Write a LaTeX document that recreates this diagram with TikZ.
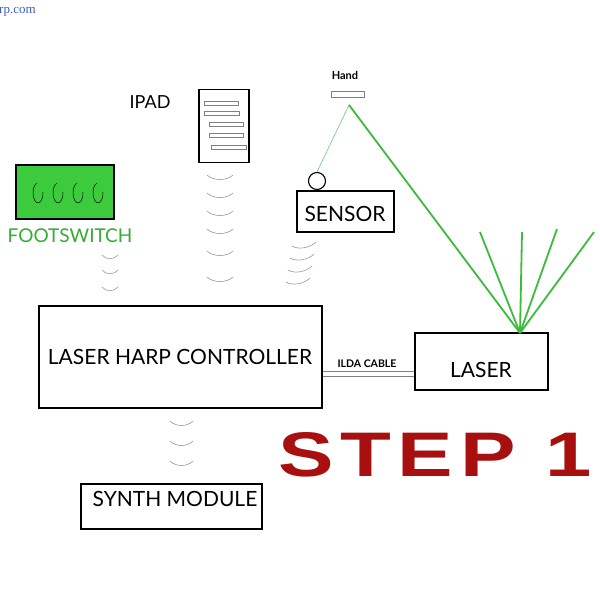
\documentclass[tikz,border=0pt]{standalone}
\usepackage{fontspec}
\setmainfont{Lato}
\newfontfamily\stepfont[LetterSpace=8]{Liberation Sans}
\newfontfamily\webfont{Liberation Serif}
\begin{document}
\begin{tikzpicture}[x=1pt,y=-1pt]
\definecolor{fsgreen}{HTML}{3CCB3C}
\definecolor{beam}{HTML}{3DBB3D}
\definecolor{stepred}{HTML}{A80F0F}
\definecolor{wavegray}{HTML}{8A8A8A}
\definecolor{weblue}{HTML}{3E5FC8}
\tikzset{
  boxed/.style={draw=black, line width=1.1pt, fill=white},
  lbl/.style={font=\fontsize{21}{21}\selectfont, inner sep=0pt},
  wave/.style={draw=wavegray, line width=0.5pt},
  bar/.style={draw=gray, line width=0.6pt},
}
\useasboundingbox (0,0) rectangle (600,600);
\fill[white] (0,0) rectangle (600,600);

% web text
\node[anchor=west, inner sep=0pt, text=weblue, font=\webfont\fontsize{13}{13}\selectfont] (web) at (-1,12) {rp.com};

% footswitch
\node[draw=black, line width=1.1pt, fill=fsgreen, minimum width=98pt, minimum height=54pt, inner sep=0pt] (fs) at (65,192) {};
\foreach \cx in {38,58,78,98}{
  \draw[black, line width=0.5pt] (\cx+5,192) arc[start angle=-5, end angle=255, x radius=5, y radius=10];
}
\node[lbl, text=fsgreen!85!black, font=\fontsize{19}{19}\selectfont] (fslbl) at (70,236) {FOOTSWITCH};
\foreach \y in {255,270,287}{
  \draw[wave] (102,\y) .. controls (106,\y+5) and (114,\y+5) .. (118,\y);
}

% ipad
\node[lbl, font=\fontsize{18}{18}\selectfont] (ipadlbl) at (150,102) {IPAD};
\node[boxed, minimum width=50pt, minimum height=73pt, inner sep=0pt] (ipad) at (224,126) {};
\draw[bar] (204,101) rectangle (238,105);
\draw[bar] (204,111) rectangle (239,115);
\draw[bar] (209,122) rectangle (243,126);
\draw[bar] (209,133) rectangle (243,137);
\draw[bar] (211,145) rectangle (246,149);
\foreach \y in {175,193,211,229,251,277}{
  \draw[wave] (207,\y) .. controls (213,\y+6) and (227,\y+6) .. (233,\y);
}

% hand
\node[inner sep=0pt, font=\bfseries\fontsize{11}{11}\selectfont] (handlbl) at (345,75) {Hand};
\node[draw=gray, line width=0.7pt, minimum width=33pt, minimum height=6pt, inner sep=0pt] (hand) at (347.5,94) {};
\coordinate (hp) at (349,105);

% sensor
\node[boxed, minimum width=97pt, minimum height=41pt, inner sep=0pt] (sensor) at (345.5,211.5) {};
\node[lbl] (sensorlbl) at (345,214) {SENSOR};
\node[draw=black, line width=1.1pt, fill=white, circle, minimum size=17pt, inner sep=0pt] (eye) at (317,181) {};
\foreach \y/\dx in {244/0,256/-2,268/-4,280/-6}{
  \draw[wave] (292+\dx,\y+2) .. controls (298+\dx,\y+6) and (310+\dx,\y+4) .. (316+\dx,\y-2);
}

% laser
\node[boxed, minimum width=133pt, minimum height=57pt, inner sep=0pt] (laser) at (481.5,361.5) {};
\node[lbl] (laserlbl) at (481,370) {LASER};
\coordinate (lt) at (520,333);
\coordinate (f1) at (480,232);
\coordinate (f2) at (522,232);
\coordinate (f3) at (557,229);
\coordinate (f4) at (594,232);

% beams
\draw[beam, line width=0.4pt] (hp) -- (eye.north);
\draw[beam, line width=1.8pt] (hp) -- (lt);
\foreach \f in {f1,f2,f3,f4}{
  \draw[beam, line width=1.8pt] (lt) -- (\f);
}

% controller
\node[boxed, minimum width=283pt, minimum height=102pt, inner sep=0pt] (ctrl) at (180.5,357) {};
\node[lbl] (ctrllbl) at (180,357) {LASER HARP CONTROLLER};

% ilda cable
\draw[gray, line width=0.7pt] (ctrl.east |- 0,371.5) -- (laser.west |- 0,371.5);
\draw[gray, line width=0.7pt] (ctrl.east |- 0,376) -- (laser.west |- 0,376);
\node[inner sep=0pt, font=\bfseries\fontsize{10.5}{10.5}\selectfont] (ilda) at (367,364) {ILDA CABLE};

% synth
\foreach \y in {421,441,461}{
  \draw[wave] (170,\y) .. controls (176,\y+6) and (187,\y+6) .. (193,\y);
}
\node[boxed, minimum width=181pt, minimum height=45pt, inner sep=0pt] (synth) at (171.5,506.5) {};
\node[lbl] (synthlbl) at (175,499) {SYNTH MODULE};

% step 1
\node[inner sep=0pt, text=stepred] (step) at (435,455) {\scalebox{1.32}[1]{\stepfont\bfseries\fontsize{63}{63}\selectfont STEP 1}};
\end{tikzpicture}
\end{document}
